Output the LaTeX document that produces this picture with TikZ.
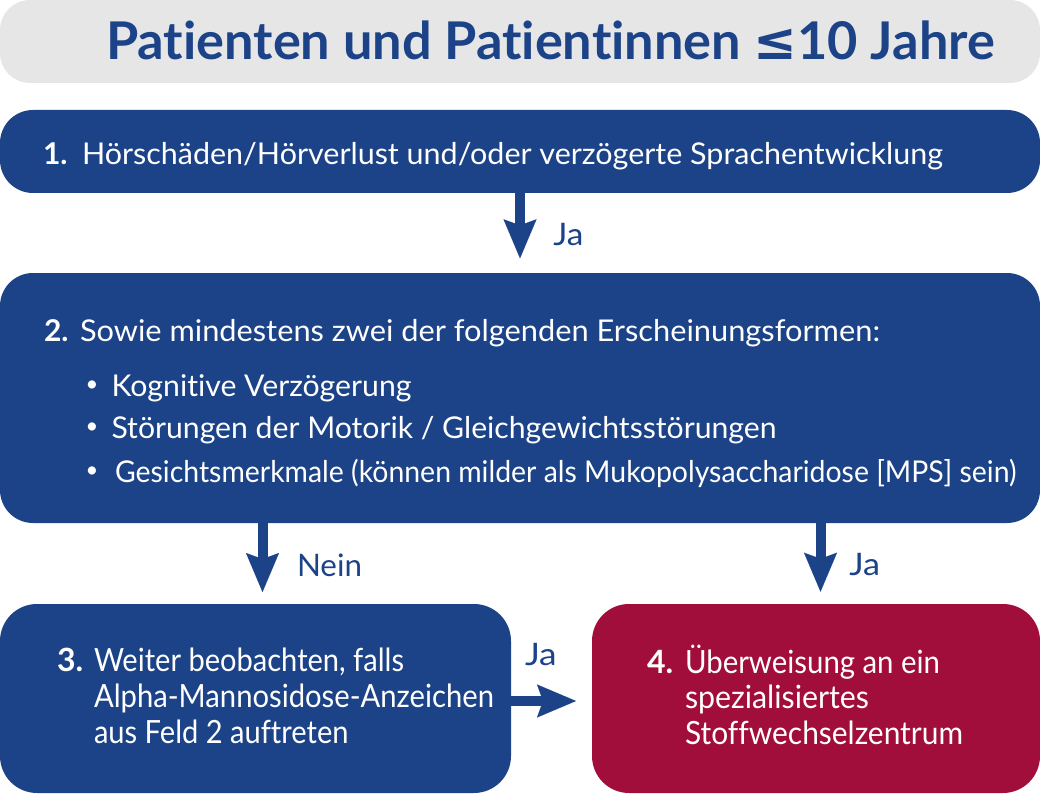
\documentclass[tikz,border=0pt]{standalone}
\usepackage{fontspec}
\setmainfont{Lato}[Ligatures=CommonOff]
\newfontfamily\symfont{DejaVu Sans}
\usetikzlibrary{arrows.meta}
\definecolor{cblue}{HTML}{1C4388}
\definecolor{cred}{HTML}{A20E3C}
\definecolor{cgray}{HTML}{E6E6E6}
\newsavebox\fitbx
\newlength\fitln
\newcommand\fitto[2]{\sbox\fitbx{#2}\setlength\fitln{\wd\fitbx}\pgfmathsetmacro\fitrat{#1/\fitln}\scalebox{\fitrat}[1]{\usebox\fitbx}}
\tikzset{
  panel/.style={rounded corners=#1, inner sep=0pt, outer sep=0pt, draw=none, anchor=north west},
  txt/.style={anchor=base west, inner sep=0pt, outer sep=0pt, text=white, font=\fontsize{30}{36}\selectfont},
  txtb/.style={txt, font=\fontsize{30}{36}\selectfont\bfseries},
  txtc/.style={txt, font=\fontsize{32}{38}\selectfont},
  txtcb/.style={txt, font=\fontsize{32}{38}\selectfont\bfseries},
  dot/.style={txt, font=\fontsize{22}{26}\selectfont},
  lbl/.style={anchor=base west, inner sep=0pt, outer sep=0pt, text=cblue, font=\fontsize{31}{37}\selectfont},
  conn/.style={draw=cblue, line width=10pt, -{Stealth[width=33pt,length=39pt,inset=6pt,line width=0.01pt,fill=cblue]}},
}
\begin{document}
\begin{tikzpicture}[x=1pt,y=-1pt]
\useasboundingbox (0,0) rectangle (1040,794);
% panels
\node[panel=30pt, fill=cgray, minimum width=1040pt, minimum height=83pt] (title) at (0,0) {};
\node[panel=33pt, fill=cblue, minimum width=1040pt, minimum height=83pt] (b1) at (0,110) {};
\node[panel=33pt, fill=cblue, minimum width=1040pt, minimum height=250pt] (b2) at (0,273) {};
\node[panel=37pt, fill=cblue, minimum width=511pt, minimum height=189pt] (b3) at (0,604) {};
\node[panel=37pt, fill=cred, minimum width=448pt, minimum height=189pt] (b4) at (592,604) {};
% title
\node[anchor=base west, inner sep=0pt, text=cblue, font=\fontsize{52}{60}\selectfont\bfseries] (tt) at (106,59.3)
  {\fitto{889}{Patienten und Patientinnen {\symfont\bfseries ≤}10 Jahre}};
% box 1
\node[txtb] (n1) at (43,165) {1.};
\node[txt] (t1) at (82,165) {\fitto{861}{Hörschäden/Hörverlust und/oder verzögerte Sprachentwicklung}};
% box 2
\node[txtb] (n2) at (44,341.7) {2.};
\node[txt] (t2) at (80,341.7) {\fitto{800}{Sowie mindestens zwei der folgenden Erscheinungsformen:}};
\node[dot] (d1) at (85.5,391) {•};
\node[txt] (t2a) at (111.5,396) {\fitto{300}{Kognitive Verzögerung}};
\node[dot] (d2) at (85.5,433.3) {•};
\node[txt] (t2b) at (111.5,438.3) {\fitto{665}{Störungen der Motorik / Gleichgewichtsstörungen}};
\node[dot] (d3) at (85.5,477) {•};
\node[txt] (t2c) at (115,482) {\fitto{901.5}{Gesichtsmerkmale (können milder als Mukopolysaccharidose [MPS] sein)}};
% box 3
\node[txtcb] (n3) at (57,671.7) {3.};
\node[txtc] (t3a) at (94,671.7) {\fitto{310}{Weiter beobachten, falls}};
\node[txtc] (t3b) at (94,707.3) {\fitto{400}{Alpha-Mannosidose-Anzeichen}};
\node[txtc] (t3c) at (94,743.3) {\fitto{254.5}{aus Feld 2 auftreten}};
% box 4
\node[txtcb] (n4) at (647,673) {4.};
\node[txtc] (t4a) at (685,673) {\fitto{255}{Überweisung an ein}};
\node[txtc] (t4b) at (685,708) {\fitto{184}{spezialisiertes}};
\node[txtc] (t4c) at (685,744) {\fitto{278}{Stoffwechselzentrum}};
% connectors
\coordinate (cn) at (262.5,0);
\coordinate (cj) at (820.5,0);
\coordinate (ch) at (0,701);
\draw[conn, shorten >=14.7pt] (b1.south) -- (b2.north);
\draw[conn, shorten >=12pt] (b2.south -| cn) -- (b3.north -| cn);
\draw[conn, shorten >=12.3pt] (b2.south -| cj) -- (b4.north -| cj);
\draw[conn, shorten >=16pt] (b3.east |- ch) -- (b4.west |- ch);
% labels
\node[lbl] (l1) at (553.3,245) {\fitto{30}{Ja}};
\node[lbl] (l2) at (297,576) {\fitto{65}{Nein}};
\node[lbl] (l3) at (849.3,575) {\fitto{30.7}{Ja}};
\node[lbl] (l4) at (525,665) {\fitto{31.7}{Ja}};
\end{tikzpicture}
\end{document}
